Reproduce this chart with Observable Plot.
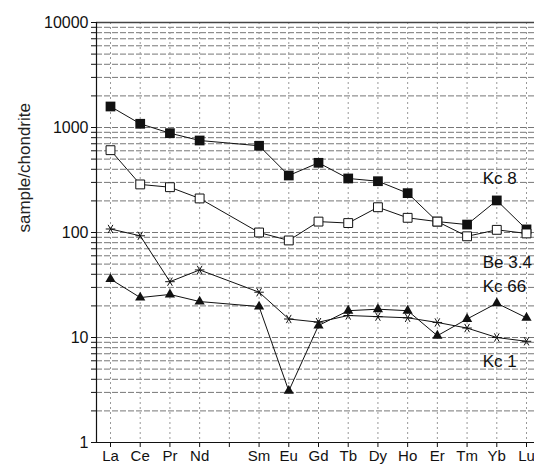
<!DOCTYPE html>
<html><head><meta charset="utf-8">
<script src="https://cdn.jsdelivr.net/npm/d3@7"></script>
<script src="https://cdn.jsdelivr.net/npm/@observablehq/plot@0.6"></script>
<style>
body{margin:0;background:#fff}
svg{display:block}
</style>
</head><body><div id="chart"></div>
<script>
const elements = ["La","Ce","Pr","Nd","Pm","Sm","Eu","Gd","Tb","Dy","Ho","Er","Tm","Yb","Lu"];
const seriesNames = ["Kc 8","Be 3.4","Kc 66","Kc 1"];
const kc8  = [1585,1085,883,752,null,670,349,461,327,308,237,127,119,202,107];
const be34 = [608,287,270,211,null,100,84,127,123,174,138,127,92,106,98];
const kc66 = [108,93,34,44,null,27,15,14,16.2,15.8,15.4,13.9,12.3,10,9.2];
const kc1  = [36,24,25.7,22,null,19.7,3.1,13,18,18.6,18,10.4,15,21.2,15.4];
const yMajor = [1,10,100,1000,10000];
const yTicks = [1,2,3,4,5,6,7,8,9,10,20,30,40,50,60,70,80,90,100,200,300,400,500,600,700,800,900,1000,2000,3000,4000,5000,6000,7000,8000,9000,10000];
const labelValues = [323,51.8,30.6,5.9];

const allSeries = [kc8, be34, kc66, kc1];
const rows = [];
allSeries.forEach((vals, s) => vals.forEach((v, i) => { if (v != null) rows.push({el: elements[i], v, series: seriesNames[s]}); }));
const pick = name => rows.filter(d => d.series === name);
const labels = seriesNames.map((n, i) => ({name: n, v: labelValues[i]}));

const chart = Plot.plot({
  width: 534, height: 464,
  marginLeft: 96, marginRight: 0, marginTop: 22, marginBottom: 22,
  style: {fontFamily: "'Liberation Sans', Arial, sans-serif", fontSize: "14px", color: "#111", background: "#fff"},
  x: {type: "point", domain: elements, range: [110, 526], padding: 0, round: false},
  y: {type: "log", domain: [1, 10000]},
  marks: [
    Plot.ruleY(yTicks, {stroke: "#777", strokeDasharray: "6,2", strokeWidth: 1}),
    Plot.ruleX(elements, {stroke: "#999", strokeDasharray: "2,3", strokeWidth: 1}),
    Plot.ruleY([10000], {stroke: "#444", strokeWidth: 1.5}),
    Plot.ruleY([1], {stroke: "#111", strokeWidth: 1.2}),
    Plot.frame({anchor: "left", stroke: "#111", strokeWidth: 1.2}),
    Plot.axisX({tickSize: 5, tickPadding: 3, fontSize: 15, label: null,
      tickFormat: d => d === "Pm" ? "" : d}),
    Plot.axisY({ticks: yTicks, tickSize: 5, tickPadding: 3, fontSize: 16, label: null,
      tickFormat: d => yMajor.includes(d) ? String(d) : ""}),
    Plot.line(rows, {x: "el", y: "v", z: "series", stroke: "#111", strokeWidth: 1}),
    Plot.dot(pick("Kc 8"), {x: "el", y: "v", symbol: "square", r: 5.5, fill: "#111", stroke: "none"}),
    Plot.dot(pick("Be 3.4"), {x: "el", y: "v", symbol: "square", r: 5, fill: "#fff", stroke: "#111", strokeWidth: 1}),
    Plot.dot(pick("Kc 66"), {x: "el", y: "v", symbol: "asterisk", r: 4.5, stroke: "#111", strokeWidth: 1, rotate: 90}),
    Plot.dot(pick("Kc 1"), {x: "el", y: "v", symbol: "triangle", r: 3.8, fill: "#111", stroke: "none"}),
    Plot.text(labels, {x: () => "Yb", y: "v", text: "name", textAnchor: "start", dx: -14, fontSize: 17, fill: "#111"}),
    Plot.text(["sample/chondrite"], {frameAnchor: "left", dx: -72, rotate: -90, fontSize: 17, fill: "#222"})
  ]
});
document.getElementById("chart").append(chart);
</script>
</body></html>
